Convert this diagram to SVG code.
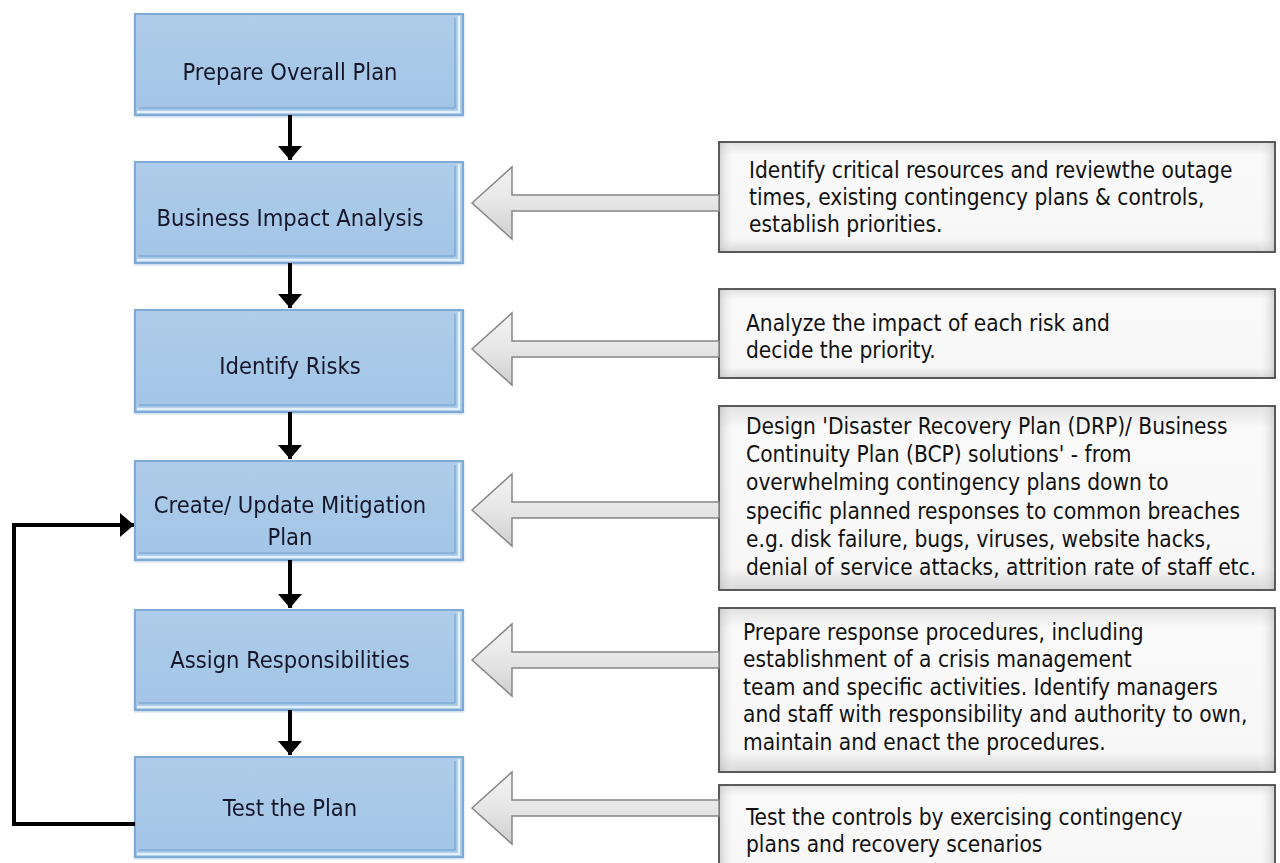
<svg xmlns="http://www.w3.org/2000/svg" width="1280" height="863" viewBox="0 0 1280 863">
<defs>
<linearGradient id="gBlue" x1="0" y1="0" x2="0" y2="1">
<stop offset="0" stop-color="#afcdea"/><stop offset="0.5" stop-color="#a8c8e8"/><stop offset="1" stop-color="#a4c5e6"/>
</linearGradient>
<linearGradient id="gGray" x1="0" y1="0" x2="0" y2="1">
<stop offset="0" stop-color="#e0e0e0"/><stop offset="0.12" stop-color="#fafafa"/><stop offset="0.88" stop-color="#f7f7f7"/><stop offset="1" stop-color="#d6d6d6"/>
</linearGradient>
<linearGradient id="gSide" x1="0" y1="0" x2="1" y2="0">
<stop offset="0" stop-color="#bbb" stop-opacity="0.55"/><stop offset="0.03" stop-color="#fff" stop-opacity="0"/><stop offset="0.97" stop-color="#fff" stop-opacity="0"/><stop offset="1" stop-color="#bbb" stop-opacity="0.55"/>
</linearGradient>
<linearGradient id="gArrow" x1="0" y1="0" x2="0" y2="1">
<stop offset="0" stop-color="#f4f4f4"/><stop offset="0.5" stop-color="#e6e6e6"/><stop offset="1" stop-color="#cfcfcf"/>
</linearGradient>
<marker id="ah" markerWidth="26" markerHeight="26" refX="14" refY="13" orient="auto" markerUnits="userSpaceOnUse">
<path d="M0,1 L14,13 L0,25 Z" fill="#000"/>
</marker>
<filter id="sh" x="-5%" y="-5%" width="110%" height="115%">
<feDropShadow dx="0" dy="1" stdDeviation="1.2" flood-color="#6f9fd0" flood-opacity="0.5"/>
</filter>
</defs>
<style>
.bx{fill:url(#gBlue);stroke:#80aad6;stroke-width:2}
.bev{fill:none;stroke:#e2f0fb;stroke-width:2.5}
.bevd{fill:none;stroke:#6e9fd2;stroke-width:1}
.bt{font-family:"DejaVu Sans Condensed","DejaVu Sans",sans-serif;font-stretch:condensed;font-size:23.5px;fill:#14172a;text-anchor:middle}
.gb{fill:url(#gGray);stroke:#4a4a4a;stroke-width:1.8}
.gs{fill:url(#gSide);stroke:none}
.gt{font-family:"DejaVu Sans Condensed","DejaVu Sans",sans-serif;font-stretch:condensed;font-size:22.5px;fill:#111}
.ba{fill:url(#gArrow);stroke:#858585;stroke-width:1.5;stroke-linejoin:miter}
.ln{stroke:#000;stroke-width:4;fill:none}
</style>

<g id="n1" filter="url(#sh)">
<rect class="bx" x="135" y="14" width="328" height="101"/>
<polyline class="bevd" points="455,18 455,108 139,108"/>
<polyline class="bev" points="459,16 459,112 137,112"/>
<text class="bt" x="290" y="80">Prepare Overall Plan</text>
</g>
<g id="n2" filter="url(#sh)">
<rect class="bx" x="135" y="162" width="328" height="101"/>
<polyline class="bevd" points="455,166 455,256 139,256"/>
<polyline class="bev" points="459,164 459,260 137,260"/>
<text class="bt" x="290" y="226">Business Impact Analysis</text>
</g>
<g id="n3" filter="url(#sh)">
<rect class="bx" x="135" y="310" width="328" height="102"/>
<polyline class="bevd" points="455,314 455,405 139,405"/>
<polyline class="bev" points="459,312 459,409 137,409"/>
<text class="bt" x="290" y="374">Identify Risks</text>
</g>
<g id="n4" filter="url(#sh)">
<rect class="bx" x="135" y="461" width="328" height="99"/>
<polyline class="bevd" points="455,465 455,553 139,553"/>
<polyline class="bev" points="459,463 459,557 137,557"/>
<text class="bt" x="290" y="513">Create/ Update Mitigation</text>
<text class="bt" x="290" y="545">Plan</text>
</g>
<g id="n5" filter="url(#sh)">
<rect class="bx" x="135" y="610" width="328" height="100"/>
<polyline class="bevd" points="455,614 455,703 139,703"/>
<polyline class="bev" points="459,612 459,707 137,707"/>
<text class="bt" x="290" y="668">Assign Responsibilities</text>
</g>
<g id="n6" filter="url(#sh)">
<rect class="bx" x="135" y="757" width="328" height="100"/>
<polyline class="bevd" points="455,761 455,850 139,850"/>
<polyline class="bev" points="459,759 459,854 137,854"/>
<text class="bt" x="290" y="816">Test the Plan</text>
</g>

<g id="d1">
<rect class="gb" x="719" y="142" width="556" height="110"/>
<rect class="gs" x="720" y="143" width="554" height="108"/>
<text class="gt" x="749" y="178">Identify critical resources and reviewthe outage</text>
<text class="gt" x="749" y="205">times, existing contingency plans &amp; controls,</text>
<text class="gt" x="749" y="232">establish priorities.</text>
</g>
<g id="d2">
<rect class="gb" x="719" y="289" width="556" height="89"/>
<rect class="gs" x="720" y="290" width="554" height="87"/>
<text class="gt" x="746" y="331">Analyze the impact of each risk and</text>
<text class="gt" x="746" y="358">decide the priority.</text>
</g>
<g id="d3">
<rect class="gb" x="719" y="406" width="556" height="184"/>
<rect class="gs" x="720" y="407" width="554" height="182"/>
<text class="gt" x="746" y="434">Design 'Disaster Recovery Plan (DRP)/ Business</text>
<text class="gt" x="746" y="462">Continuity Plan (BCP) solutions' - from</text>
<text class="gt" x="746" y="490">overwhelming contingency plans down to</text>
<text class="gt" x="746" y="519">specific planned responses to common breaches</text>
<text class="gt" x="746" y="547">e.g. disk failure, bugs, viruses, website hacks,</text>
<text class="gt" x="746" y="575">denial of service attacks, attrition rate of staff etc.</text>
</g>
<g id="d4">
<rect class="gb" x="719" y="608" width="556" height="164"/>
<rect class="gs" x="720" y="609" width="554" height="162"/>
<text class="gt" x="743" y="640">Prepare response procedures, including</text>
<text class="gt" x="743" y="667">establishment of a crisis management</text>
<text class="gt" x="743" y="695">team and specific activities. Identify managers</text>
<text class="gt" x="743" y="722">and staff with responsibility and authority to own,</text>
<text class="gt" x="743" y="750">maintain and enact the procedures.</text>
</g>
<g id="d5">
<rect class="gb" x="719" y="785" width="556" height="90"/>
<rect class="gs" x="720" y="786" width="554" height="88"/>
<text class="gt" x="746" y="825">Test the controls by exercising contingency</text>
<text class="gt" x="746" y="852">plans and recovery scenarios</text>
</g>

<g id="connectors">
<path class="ln" d="M290,115 L290,160" marker-end="url(#ah)"/>
<path class="ln" d="M290,263 L290,308" marker-end="url(#ah)"/>
<path class="ln" d="M290,412 L290,459" marker-end="url(#ah)"/>
<path class="ln" d="M290,560 L290,608" marker-end="url(#ah)"/>
<path class="ln" d="M290,710 L290,755" marker-end="url(#ah)"/>
<path class="ln" d="M135,824 L14,824 L14,525 L134,525" marker-end="url(#ah)"/>
<path class="ba" d="M472,203 L512,167 L512,195 L719,195 L719,211 L512,211 L512,239 Z"/>
<path class="ba" d="M472,349 L512,313 L512,341 L719,341 L719,357 L512,357 L512,385 Z"/>
<path class="ba" d="M472,510 L512,474 L512,502 L719,502 L719,518 L512,518 L512,546 Z"/>
<path class="ba" d="M472,660 L512,624 L512,652 L719,652 L719,668 L512,668 L512,696 Z"/>
<path class="ba" d="M472,808 L512,772 L512,800 L719,800 L719,816 L512,816 L512,844 Z"/>
</g>
</svg>
